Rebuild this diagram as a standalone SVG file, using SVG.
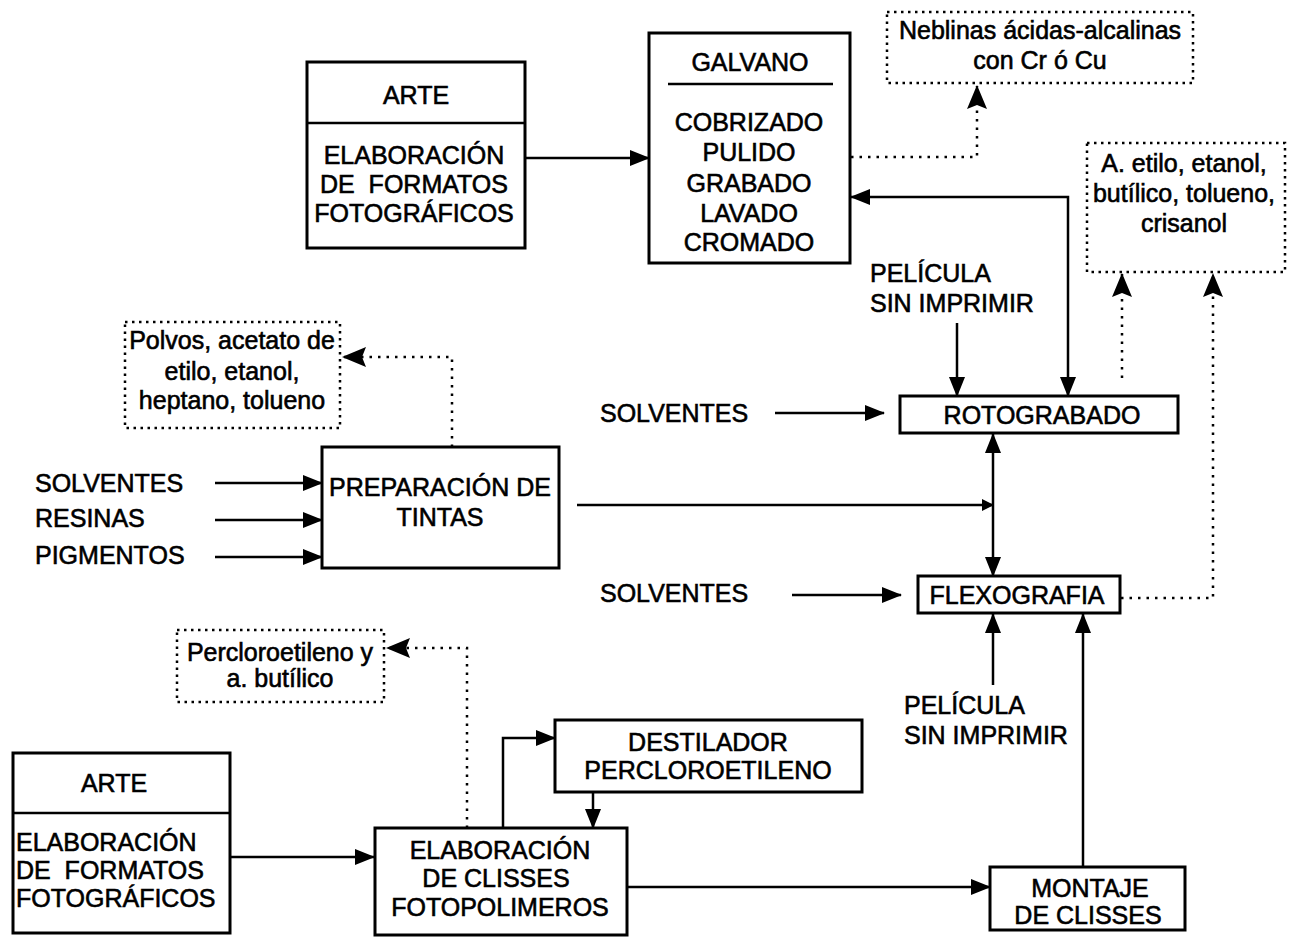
<svg xmlns="http://www.w3.org/2000/svg" width="1293" height="937" viewBox="0 0 1293 937">
<style>
.box{fill:#fff;stroke:#000;stroke-width:3}
.dbox{fill:#fff;stroke:#000;stroke-width:2.5;stroke-dasharray:2.5 4.5}
.t{font-family:"Liberation Sans",Arial,sans-serif;font-size:25px;fill:#000;stroke:#000;stroke-width:0.6}
.c{text-anchor:middle}
.ln{fill:none;stroke:#000;stroke-width:2.5}
.dl{fill:none;stroke:#000;stroke-width:2.5;stroke-dasharray:2.5 6}
</style>
<defs>
<marker id="ah" markerUnits="userSpaceOnUse" markerWidth="20" markerHeight="16" refX="19" refY="8" orient="auto-start-reverse" viewBox="0 0 20 16"><path d="M0,0 L20,8 L0,16 z" fill="#000"/></marker>
<marker id="ahb" markerUnits="userSpaceOnUse" markerWidth="24" markerHeight="20" refX="23" refY="10" orient="auto-start-reverse" viewBox="0 0 24 20"><path d="M0,0 L24,10 L0,20 L4,10 z" fill="#000"/></marker>
<marker id="ahs" markerUnits="userSpaceOnUse" markerWidth="12" markerHeight="12" refX="11" refY="6" orient="auto" viewBox="0 0 12 12"><path d="M0,0 L12,6 L0,12 z" fill="#000"/></marker>
</defs>
<rect width="1293" height="937" fill="#fff"/>

<g id="connectors">
<path class="ln" d="M525,158 H649" marker-end="url(#ah)"/>
<path class="dl" d="M851,157 H977 V86" marker-end="url(#ahb)"/>
<path class="ln" d="M1068,396 V197 H851" marker-start="url(#ah)" marker-end="url(#ah)"/>
<path class="ln" d="M957,323 V396" marker-end="url(#ah)"/>
<path class="dl" d="M1122,378 V274" marker-end="url(#ahb)"/>
<path class="ln" d="M775,413 H884" marker-end="url(#ah)"/>
<path class="ln" d="M993,434 V576" marker-start="url(#ah)" marker-end="url(#ah)"/>
<path class="ln" d="M577,505 H993" marker-end="url(#ahs)"/>
<path class="ln" d="M792,595 H901" marker-end="url(#ah)"/>
<path class="dl" d="M1121,598 H1213 V274" marker-end="url(#ahb)"/>
<path class="ln" d="M993,685 V614" marker-end="url(#ah)"/>
<path class="ln" d="M1083,867 V614" marker-end="url(#ah)"/>
<path class="dl" d="M452,447 V357 H343" marker-end="url(#ahb)"/>
<path class="ln" d="M215,483 H322" marker-end="url(#ah)"/>
<path class="ln" d="M215,520 H322" marker-end="url(#ah)"/>
<path class="ln" d="M215,557 H322" marker-end="url(#ah)"/>
<path class="ln" d="M230,857 H374" marker-end="url(#ah)"/>
<path class="dl" d="M467,828 V648 H387" marker-end="url(#ahb)"/>
<path class="ln" d="M503,828 V738 H555" marker-end="url(#ah)"/>
<path class="ln" d="M593,792 V828" marker-end="url(#ah)"/>
<path class="ln" d="M627,887 H990" marker-end="url(#ah)"/>
</g>

<g id="arte1">
<rect class="box" x="307" y="62" width="218" height="186"/>
<line class="ln" x1="307" y1="123" x2="525" y2="123" stroke-width="3"/>
<text class="t c" x="416" y="104">ARTE</text>
<text class="t c" x="414" y="164">ELABORACIÓN</text>
<text class="t c" x="414" y="193" xml:space="preserve">DE  FORMATOS</text>
<text class="t c" x="414" y="222">FOTOGRÁFICOS</text>
</g>

<g id="galvano">
<rect class="box" x="649" y="33" width="201" height="230"/>
<text class="t c" x="750" y="71">GALVANO</text>
<line class="ln" x1="668" y1="84" x2="833" y2="84" stroke-width="3"/>
<text class="t c" x="749" y="131">COBRIZADO</text>
<text class="t c" x="749" y="161">PULIDO</text>
<text class="t c" x="749" y="192">GRABADO</text>
<text class="t c" x="749" y="222">LAVADO</text>
<text class="t c" x="749" y="251">CROMADO</text>
</g>

<g id="neblinas">
<rect class="dbox" x="887" y="12" width="306" height="71"/>
<text class="t c" x="1040" y="39">Neblinas ácidas-alcalinas</text>
<text class="t c" x="1040" y="69">con Cr ó Cu</text>
</g>

<g id="aetilo">
<rect class="dbox" x="1087" y="143" width="198" height="129"/>
<text class="t c" x="1184" y="172">A. etilo, etanol,</text>
<text class="t c" x="1184" y="202">butílico, tolueno,</text>
<text class="t c" x="1184" y="232">crisanol</text>
</g>

<g id="pelicula1">
<text class="t" x="870" y="282">PELÍCULA</text>
<text class="t" x="870" y="312">SIN IMPRIMIR</text>
</g>

<g id="rotograbado">
<rect class="box" x="900" y="396" width="278" height="37"/>
<text class="t c" x="1042" y="424">ROTOGRABADO</text>
</g>

<g id="solventes1">
<text class="t" x="600" y="422">SOLVENTES</text>
</g>

<g id="flexografia">
<rect class="box" x="918" y="576" width="202" height="37"/>
<text class="t c" x="1017" y="604">FLEXOGRAFIA</text>
</g>

<g id="solventes2">
<text class="t" x="600" y="602">SOLVENTES</text>
</g>

<g id="pelicula2">
<text class="t" x="904" y="714">PELÍCULA</text>
<text class="t" x="904" y="744">SIN IMPRIMIR</text>
</g>

<g id="polvos">
<rect class="dbox" x="125" y="322" width="215" height="106"/>
<text class="t c" x="232" y="349">Polvos, acetato de</text>
<text class="t c" x="232" y="380">etilo, etanol,</text>
<text class="t c" x="232" y="409">heptano, tolueno</text>
</g>

<g id="insumos">
<text class="t" x="35" y="492">SOLVENTES</text>
<text class="t" x="35" y="527">RESINAS</text>
<text class="t" x="35" y="564">PIGMENTOS</text>
</g>

<g id="preparacion">
<rect class="box" x="322" y="447" width="237" height="121"/>
<text class="t c" x="440" y="496">PREPARACIÓN DE</text>
<text class="t c" x="440" y="526">TINTAS</text>
</g>

<g id="percloro">
<rect class="dbox" x="177" y="630" width="207" height="72"/>
<text class="t c" x="280" y="661">Percloroetileno y</text>
<text class="t c" x="280" y="687">a. butílico</text>
</g>

<g id="arte2">
<rect class="box" x="13" y="753" width="217" height="180"/>
<line class="ln" x1="13" y1="813" x2="230" y2="813" stroke-width="3"/>
<text class="t c" x="114" y="792">ARTE</text>
<text class="t" x="16" y="851">ELABORACIÓN</text>
<text class="t" x="16" y="879" xml:space="preserve">DE  FORMATOS</text>
<text class="t" x="16" y="907">FOTOGRÁFICOS</text>
</g>

<g id="clisses">
<rect class="box" x="375" y="828" width="252" height="107"/>
<text class="t c" x="500" y="859">ELABORACIÓN</text>
<text class="t c" x="496" y="887">DE CLISSES</text>
<text class="t c" x="500" y="916">FOTOPOLIMEROS</text>
</g>

<g id="destilador">
<rect class="box" x="555" y="720" width="307" height="72"/>
<text class="t c" x="708" y="751">DESTILADOR</text>
<text class="t c" x="708" y="779">PERCLOROETILENO</text>
</g>

<g id="montaje">
<rect class="box" x="990" y="867" width="195" height="63"/>
<text class="t c" x="1090" y="897">MONTAJE</text>
<text class="t c" x="1088" y="924">DE CLISSES</text>
</g>
</svg>
